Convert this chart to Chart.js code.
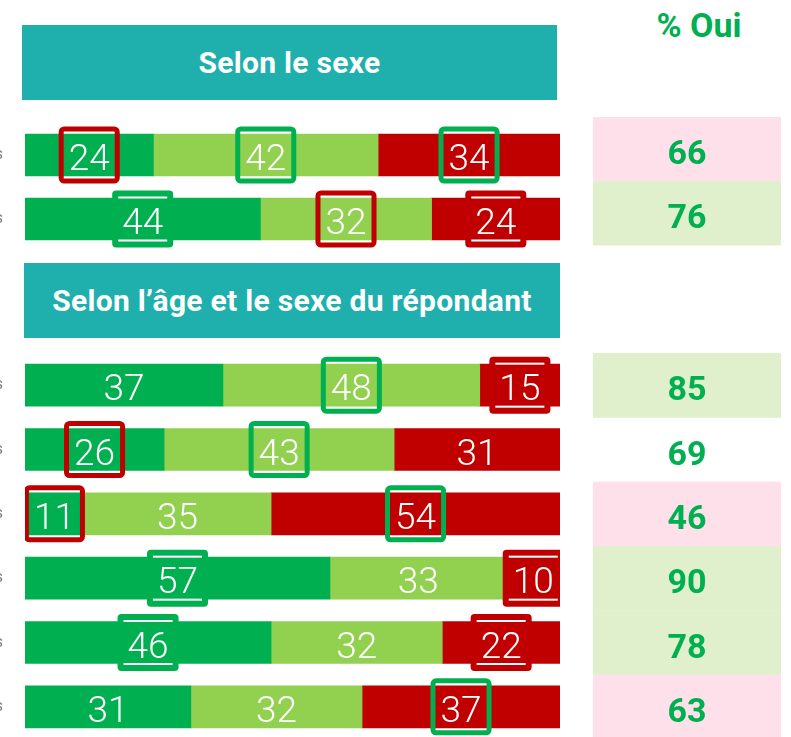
<!DOCTYPE html>
<html lang="fr">
<head>
<meta charset="utf-8">
<script src="https://cdn.jsdelivr.net/npm/chart.js@4.4.1/dist/chart.umd.min.js"></script>
<style>
  html, body { margin: 0; padding: 0; background: #fff; width: 791px; height: 737px; overflow: hidden; }
  body { position: relative; font-family: Roboto, "Noto Sans", sans-serif; }
  .head { position: absolute; background: #1FAFAD; color: #fff; font-weight: 700; font-size: 30px;
          letter-spacing: 0.3px; display: flex; align-items: center; justify-content: center; }
  #oui { position: absolute; left: 600px; width: 198px; top: 8px; text-align: center;
         color: #00B050; font-weight: 700; font-size: 34px; line-height: 1; }
  canvas { position: absolute; left: -120px; }
</style>
</head>
<body>
<div class="head" style="left:22px; top:25px; width:535px; height:75px;">Selon le sexe</div>
<div class="head" style="left:24px; top:263px; width:536px; height:75px;">Selon l’âge et le sexe du répondant</div>
<div id="oui">% Oui</div>
<canvas id="chartSexe" width="911" height="141" style="top:110px;"></canvas>
<canvas id="chartAge" width="911" height="399" style="top:340px;"></canvas>
<script>
// Selon le sexe
const labelsSexe = ['Hommes', 'Femmes'];
const toutAFaitSexe = [24, 44];
const plutotSexe = [42, 32];
const nonSexe = [34, 24];
const ouiSexe = [66, 76];

// Selon l'âge et le sexe
const labelsAge = ['Hommes de moins de 35 ans', 'Femmes de moins de 35 ans', 'Hommes de 35 à 54 ans',
                   'Femmes de 35 à 54 ans', 'Hommes de 55 ans et plus', 'Femmes de 55 ans et plus'];
const toutAFaitAge = [37, 26, 11, 57, 46, 31];
const plutotAge = [48, 43, 35, 33, 32, 32];
const nonAge = [15, 31, 54, 10, 22, 37];
const ouiAge = [85, 69, 46, 90, 78, 63];

// écarts significatifs : 'r' encadré rouge, 'g' encadré vert, 'f' pastille
const marksSexe = [['r', 'g', 'g'], ['f', 'r', 'f']];
const marksAge = [['', 'g', 'f'], ['r', 'g', ''], ['r', '', 'g'], ['f', '', 'f'], ['f', '', 'f'], ['', '', 'g']];
const tonesSexe = ['bas', 'haut'];
const tonesAge = ['haut', '', 'bas', 'haut', 'haut', 'bas'];

const toneBg = { haut: '#E0F0CC', bas: '#FDE0EA' };

const valeursPlugin = {
  id: 'valeurs',
  afterDatasetsDraw(chart, args, opts) {
    const ctx = chart.ctx;
    const area = chart.chartArea;
    const y = chart.scales.y;
    ctx.save();
    ctx.font = '300 37px Roboto';
    ctx.textAlign = 'center';
    ctx.textBaseline = 'alphabetic';
    chart.data.datasets.forEach((ds, d) => {
      chart.getDatasetMeta(d).data.forEach((bar, i) => {
        const cx = (bar.x + bar.base) / 2;
        const cy = bar.y;
        const txt = String(ds.data[i]);
        const w = ctx.measureText(txt).width + 20;
        const h = 57;
        const mark = opts.marks[i][d];
        ctx.save();
        ctx.beginPath();
        ctx.rect(area.left, 0, area.right - area.left, chart.height);
        ctx.clip();
        if (mark === 'r' || mark === 'g') {
          ctx.lineWidth = 5;
          ctx.strokeStyle = mark === 'r' ? '#C00000' : '#00B050';
          ctx.beginPath();
          ctx.roundRect(cx - w / 2 + 2.5, cy - h / 2 + 2.5, w - 5, h - 5, 3);
          ctx.stroke();
        } else if (mark === 'f') {
          ctx.fillStyle = ds.backgroundColor;
          ctx.beginPath();
          ctx.roundRect(cx - w / 2, cy - h / 2, w, h, 4);
          ctx.fill();
          ctx.fillStyle = '#fff';
          ctx.fillRect(cx - w / 2 + 6, cy - h / 2 + 6, w - 12, 2);
          ctx.fillRect(cx - w / 2 + 6, cy + h / 2 - 8, w - 12, 2);
        }
        ctx.restore();
        ctx.fillStyle = '#fff';
        ctx.fillText(txt, cx, cy + 15);
      });
    });

    // colonne % Oui
    const band = y.height / chart.data.labels.length;
    const colX = area.right + 33;
    const colW = 188;
    ctx.font = '700 34px Roboto';
    opts.oui.forEach((v, i) => {
      const c = y.getPixelForValue(i) + opts.shift;
      const bg = toneBg[opts.tones[i]];
      if (bg) {
        ctx.fillStyle = bg;
        ctx.fillRect(colX, c - band / 2, colW, band + 0.5);
      }
      ctx.fillStyle = '#00B050';
      ctx.fillText(String(v), colX + colW / 2, c + 15);
    });
    ctx.restore();
  }
};

function makeChart(id, labels, a, b, c, marks, oui, tones, shift) {
  return new Chart(document.getElementById(id), {
    type: 'bar',
    data: {
      labels: labels,
      datasets: [
        { label: 'Oui, tout à fait', data: a, backgroundColor: '#00B050' },
        { label: 'Oui, plutôt', data: b, backgroundColor: '#92D050' },
        { label: 'Non', data: c, backgroundColor: '#C00000' }
      ]
    },
    options: {
      indexAxis: 'y',
      responsive: false,
      animation: false,
      devicePixelRatio: 1,
      layout: { padding: { top: 13, right: 231, bottom: 0, left: 0 } },
      datasets: { bar: { barThickness: 42 } },
      scales: {
        x: { stacked: true, min: 0, max: 100, display: false },
        y: {
          stacked: true,
          grid: { display: false, drawTicks: false },
          border: { display: false },
          ticks: { padding: 22, color: '#7F7F7F', font: { family: 'Roboto', size: 16 } },
          afterFit(s) {
            s.width = 145;
            s.paddingTop = 0;
            s.paddingBottom = 0;
          }
        }
      },
      plugins: {
        legend: { display: false },
        tooltip: { enabled: false },
        valeurs: { marks: marks, oui: oui, tones: tones, shift: shift }
      }
    },
    plugins: [valeursPlugin]
  });
}

makeChart('chartSexe', labelsSexe, toutAFaitSexe, plutotSexe, nonSexe, marksSexe, ouiSexe, tonesSexe, -6);
makeChart('chartAge', labelsAge, toutAFaitAge, plutotAge, nonAge, marksAge, ouiAge, tonesAge, 0);
</script>
</body>
</html>
